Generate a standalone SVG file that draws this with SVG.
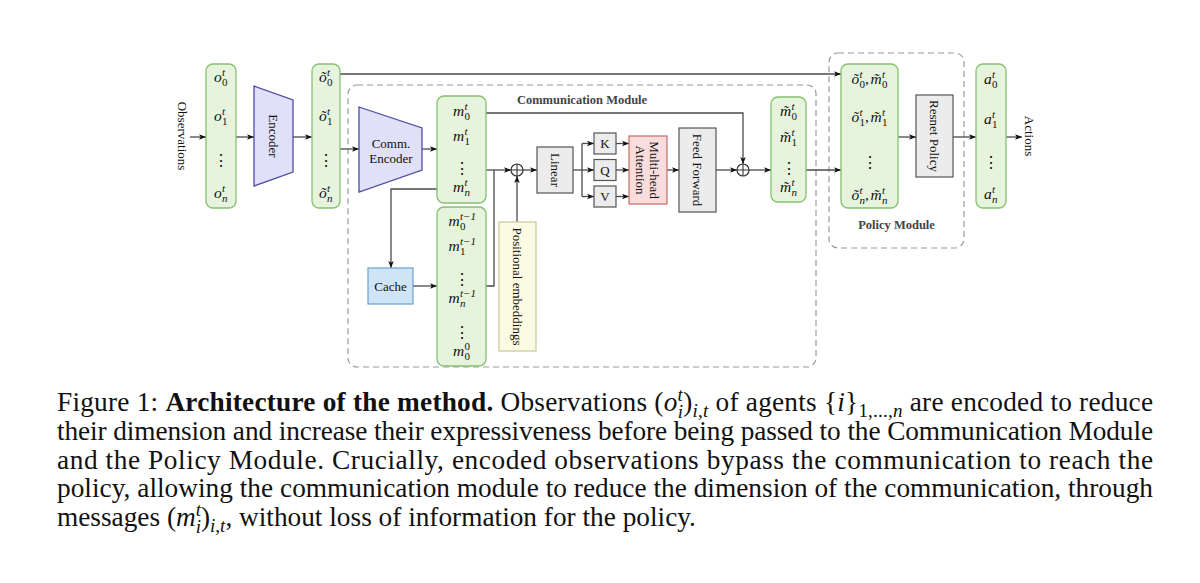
<svg xmlns="http://www.w3.org/2000/svg" width="1200" height="583" viewBox="0 0 1200 583">
<defs>
<marker id="ah" viewBox="0 0 10 10" refX="10" refY="5" markerWidth="7" markerHeight="7" markerUnits="userSpaceOnUse" orient="auto"><path d="M0,1 L10,5 L0,9 L2.5,5 z" fill="#111"/></marker>
<style>
.col{fill:#e6f4dd;stroke:#86c070;stroke-width:1.3}
.enc{fill:#e0e0f8;stroke:#4d4da0;stroke-width:1.3}
.gray{fill:#ececec;stroke:#555;stroke-width:1.2}
.att{fill:#f9dcdc;stroke:#c86a6a;stroke-width:1.2}
.cache{fill:#cfe5f6;stroke:#6c9fd0;stroke-width:1.2}
.pos{fill:#fbfae3;stroke:#c9c996;stroke-width:1.2}
.dash{fill:none;stroke:#9a9a9a;stroke-width:1.2;stroke-dasharray:6 4}
.ln{fill:none;stroke:#4a4a4a;stroke-width:1.3}
.arr{marker-end:url(#ah)}
.oplus{fill:#fff;stroke:#333;stroke-width:1.2}
text{font-family:"Liberation Serif","Times New Roman",serif;fill:#111}
.lbl{font-size:13px}
.rot{font-size:13px;text-anchor:middle;dominant-baseline:central}
.mid{text-anchor:middle}
.mi{font-size:15.5px;font-style:italic}
.sc{font-size:11px}
.up{font-style:normal}
.it{font-style:italic}
.bold{font-weight:bold}
.dots{font-family:"DejaVu Serif",serif;font-size:16px;text-anchor:middle;dominant-baseline:central}
.mod{font-size:12.5px;font-weight:bold;fill:#444;text-anchor:middle}
.cap{font-size:27.3px}
</style>
</defs>
<rect width="1200" height="583" fill="#fff"/>

<g id="comm-module">
<rect class="dash" x="348" y="85" width="468" height="282" rx="9"/>
<text class="mod" x="582" y="104">Communication Module</text>
</g>
<g id="policy-module">
<rect class="dash" x="829" y="53" width="135" height="195" rx="9"/>
<text class="mod" x="896.5" y="229">Policy Module</text>
</g>

<g id="connectors">
<line class="ln arr" x1="190" y1="137" x2="206" y2="137"/>
<line class="ln arr" x1="236" y1="137" x2="254" y2="137"/>
<line class="ln arr" x1="293" y1="137" x2="312" y2="137"/>
<line class="ln arr" x1="340" y1="74" x2="841" y2="74"/>
<line class="ln arr" x1="340" y1="149" x2="359" y2="149"/>
<line class="ln arr" x1="422" y1="149" x2="437" y2="149"/>
<line class="ln arr" x1="486" y1="170" x2="511" y2="170"/>
<polyline class="ln" points="486,286 494,286 494,170"/>
<polyline class="ln arr" points="437,189 391,189 391,268"/>
<line class="ln arr" x1="413" y1="286" x2="437" y2="286"/>
<line class="ln arr" x1="517" y1="222" x2="517" y2="176"/>
<line class="ln arr" x1="523" y1="170" x2="537" y2="170"/>
<polyline class="ln" points="573,170 582,170"/>
<line class="ln" x1="582" y1="143.5" x2="582" y2="196.5"/>
<line class="ln arr" x1="582" y1="143.5" x2="594" y2="143.5"/>
<line class="ln arr" x1="582" y1="170" x2="594" y2="170"/>
<line class="ln arr" x1="582" y1="196.5" x2="594" y2="196.5"/>
<line class="ln arr" x1="616" y1="143.5" x2="629" y2="143.5"/>
<line class="ln arr" x1="616" y1="170" x2="629" y2="170"/>
<line class="ln arr" x1="616" y1="196.5" x2="629" y2="196.5"/>
<line class="ln arr" x1="667" y1="170" x2="679" y2="170"/>
<line class="ln arr" x1="716" y1="170" x2="737" y2="170"/>
<polyline class="ln arr" points="486,113 743,113 743,164"/>
<line class="ln arr" x1="749" y1="170" x2="771" y2="170"/>
<line class="ln arr" x1="806" y1="170" x2="841" y2="170"/>
<line class="ln arr" x1="898" y1="137" x2="916" y2="137"/>
<line class="ln arr" x1="953" y1="137" x2="976" y2="137"/>
<line class="ln arr" x1="1006" y1="137" x2="1022" y2="137"/>
</g>

<g id="observations-label">
<text class="rot" font-size="12.5" transform="translate(182,136) rotate(90)">Observations</text>
</g>

<g id="obs-col">
<rect class="col" x="206" y="64" width="30" height="144" rx="7"/>
<text class="mi" y="82"><tspan x="214">o</tspan><tspan class="sc" x="222" dy="-6.5">t</tspan><tspan class="sc up" x="222" dy="10">0</tspan></text>
<text class="mi" y="121"><tspan x="214">o</tspan><tspan class="sc" x="222" dy="-6.5">t</tspan><tspan class="sc up" x="222" dy="10">1</tspan></text>
<text class="dots" x="221" y="160">⋮</text>
<text class="mi" y="198"><tspan x="214">o</tspan><tspan class="sc" x="222" dy="-6.5">t</tspan><tspan class="sc" x="222" dy="10">n</tspan></text>
</g>

<g id="encoder">
<polygon class="enc" points="254,86 293,100 293,172 254,186"/>
<text class="rot" transform="translate(273,136) rotate(90)">Encoder</text>
</g>

<g id="enc-obs-col">
<rect class="col" x="312" y="64" width="28" height="144" rx="7"/>
<text class="mi" y="82"><tspan x="319">õ</tspan><tspan class="sc" x="327" dy="-6.5">t</tspan><tspan class="sc up" x="327" dy="10">0</tspan></text>
<text class="mi" y="121"><tspan x="319">õ</tspan><tspan class="sc" x="327" dy="-6.5">t</tspan><tspan class="sc up" x="327" dy="10">1</tspan></text>
<text class="dots" x="326" y="160">⋮</text>
<text class="mi" y="198"><tspan x="319">õ</tspan><tspan class="sc" x="327" dy="-6.5">t</tspan><tspan class="sc" x="327" dy="10">n</tspan></text>
</g>

<g id="comm-encoder">
<polygon class="enc" points="359,107 422,128 422,170 359,192"/>
<text class="lbl mid" font-size="14" x="391" y="148">Comm.</text>
<text class="lbl mid" font-size="14" x="391" y="163">Encoder</text>
</g>

<g id="msg-col">
<rect class="col" x="437" y="96" width="49" height="107" rx="7"/>
<text class="mi" y="116"><tspan x="453">m</tspan><tspan class="sc" x="464.5" dy="-6.5">t</tspan><tspan class="sc up" x="464.5" dy="10">0</tspan></text>
<text class="mi" y="141"><tspan x="453">m</tspan><tspan class="sc" x="464.5" dy="-6.5">t</tspan><tspan class="sc up" x="464.5" dy="10">1</tspan></text>
<text class="dots" x="461.5" y="168">⋮</text>
<text class="mi" y="192"><tspan x="453">m</tspan><tspan class="sc" x="464.5" dy="-6.5">t</tspan><tspan class="sc" x="464.5" dy="10">n</tspan></text>
</g>

<g id="cache">
<rect class="cache" x="368" y="268" width="45" height="36"/>
<text class="lbl mid" font-size="13.5" x="390.5" y="291">Cache</text>
</g>

<g id="past-msg-col">
<rect class="col" x="437" y="207" width="49" height="159" rx="7"/>
<text class="mi" y="226"><tspan x="448.5">m</tspan><tspan class="sc" x="460" dy="-6.5">t−1</tspan><tspan class="sc up" x="460" dy="10">0</tspan></text>
<text class="mi" y="251"><tspan x="448.5">m</tspan><tspan class="sc" x="460" dy="-6.5">t−1</tspan><tspan class="sc up" x="460" dy="10">1</tspan></text>
<text class="dots" x="461.5" y="279">⋮</text>
<text class="mi" y="303"><tspan x="448.5">m</tspan><tspan class="sc" x="460" dy="-6.5">t−1</tspan><tspan class="sc" x="460" dy="10">n</tspan></text>
<text class="dots" x="461.5" y="332">⋮</text>
<text class="mi" y="356"><tspan x="453">m</tspan><tspan class="sc up" x="464.5" dy="-6.5">0</tspan><tspan class="sc up" x="464.5" dy="10">0</tspan></text>
</g>

<g id="positional-embeddings">
<rect class="pos" x="499" y="222" width="37" height="129"/>
<text class="rot" font-size="12" transform="translate(517.5,286.5) rotate(90)">Positional embeddings</text>
</g>

<g id="add-pos">
<circle class="oplus" cx="517" cy="170" r="6"/>
<path class="ln" d="M511,170 H523 M517,164 V176" style="stroke:#333;stroke-width:1.1"/>
</g>

<g id="linear">
<rect class="gray" x="537" y="147" width="36" height="46"/>
<text class="rot" transform="translate(555,170) rotate(90)">Linear</text>
</g>

<g id="key">
<rect class="gray" x="594" y="133" width="22" height="21"/>
<text class="lbl mid" x="605" y="148">K</text>
</g>
<g id="query">
<rect class="gray" x="594" y="159.5" width="22" height="21"/>
<text class="lbl mid" x="605" y="174.5">Q</text>
</g>
<g id="value">
<rect class="gray" x="594" y="186" width="22" height="21"/>
<text class="lbl mid" x="605" y="201">V</text>
</g>

<g id="attention">
<rect class="att" x="629" y="136" width="38" height="68"/>
<text class="rot" font-size="12.5" transform="translate(648,170) rotate(90)"><tspan x="0" y="-7">Multi-head</tspan><tspan x="0" y="7">Attention</tspan></text>
</g>

<g id="feed-forward">
<rect class="gray" x="679" y="128" width="37" height="84"/>
<text class="rot" transform="translate(697.5,170) rotate(90)">Feed Forward</text>
</g>

<g id="add-res">
<circle class="oplus" cx="743" cy="170" r="6"/>
<path class="ln" d="M737,170 H749 M743,164 V176" style="stroke:#333;stroke-width:1.1"/>
</g>

<g id="comm-out-col">
<rect class="col" x="771" y="97" width="35" height="105" rx="7"/>
<text class="mi" y="116"><tspan x="780">m̃</tspan><tspan class="sc" x="791.5" dy="-6.5">t</tspan><tspan class="sc up" x="791.5" dy="10">0</tspan></text>
<text class="mi" y="142"><tspan x="780">m̃</tspan><tspan class="sc" x="791.5" dy="-6.5">t</tspan><tspan class="sc up" x="791.5" dy="10">1</tspan></text>
<text class="dots" x="788.5" y="168">⋮</text>
<text class="mi" y="192"><tspan x="780">m̃</tspan><tspan class="sc" x="791.5" dy="-6.5">t</tspan><tspan class="sc" x="791.5" dy="10">n</tspan></text>
</g>

<g id="policy-in-col">
<rect class="col" x="841" y="64" width="57" height="144" rx="7"/>
<text class="mi" y="84"><tspan x="851.5">õ</tspan><tspan class="sc" x="859.5" dy="-6.5">t</tspan><tspan class="sc up" x="859.5" dy="10">0</tspan><tspan class="up" x="865" dy="-3.5">,</tspan><tspan x="870.5">m̃</tspan><tspan class="sc" x="882" dy="-6.5">t</tspan><tspan class="sc up" x="882" dy="10">0</tspan></text>
<text class="mi" y="122"><tspan x="851.5">õ</tspan><tspan class="sc" x="859.5" dy="-6.5">t</tspan><tspan class="sc up" x="859.5" dy="10">1</tspan><tspan class="up" x="865" dy="-3.5">,</tspan><tspan x="870.5">m̃</tspan><tspan class="sc" x="882" dy="-6.5">t</tspan><tspan class="sc up" x="882" dy="10">1</tspan></text>
<text class="dots" x="869.5" y="162">⋮</text>
<text class="mi" y="200"><tspan x="851.5">õ</tspan><tspan class="sc" x="859.5" dy="-6.5">t</tspan><tspan class="sc" x="859.5" dy="10">n</tspan><tspan class="up" x="865" dy="-3.5">,</tspan><tspan x="870.5">m̃</tspan><tspan class="sc" x="882" dy="-6.5">t</tspan><tspan class="sc" x="882" dy="10">n</tspan></text>
</g>

<g id="resnet-policy">
<rect class="gray" x="916" y="95" width="37" height="82"/>
<text class="rot" transform="translate(934.5,136) rotate(90)">Resnet Policy</text>
</g>

<g id="actions-col">
<rect class="col" x="976" y="64" width="30" height="144" rx="7"/>
<text class="mi" y="84"><tspan x="984">a</tspan><tspan class="sc" x="992" dy="-6.5">t</tspan><tspan class="sc up" x="992" dy="10">0</tspan></text>
<text class="mi" y="124"><tspan x="984">a</tspan><tspan class="sc" x="992" dy="-6.5">t</tspan><tspan class="sc up" x="992" dy="10">1</tspan></text>
<text class="dots" x="991" y="162">⋮</text>
<text class="mi" y="199"><tspan x="984">a</tspan><tspan class="sc" x="992" dy="-6.5">t</tspan><tspan class="sc" x="992" dy="10">n</tspan></text>
</g>

<g id="actions-label">
<text class="rot" font-size="12.5" transform="translate(1029,136) rotate(90)">Actions</text>
</g>

<g id="caption">
<text class="cap" x="57" y="411" textLength="1096" lengthAdjust="spacing">Figure 1: <tspan class="bold">Architecture of the method.</tspan> Observations (<tspan class="it">o</tspan><tspan class="it" font-size="19" dy="-10">t</tspan><tspan class="it" font-size="19" dx="-5.3" dy="17">i</tspan><tspan dy="-7">)</tspan><tspan font-size="19" dy="6"><tspan class="it">i</tspan>,<tspan class="it">t</tspan></tspan><tspan dy="-6"> of agents {</tspan><tspan class="it">i</tspan>}<tspan font-size="19" dy="6">1,...,<tspan class="it">n</tspan></tspan><tspan dy="-6"> are encoded to reduce</tspan></text>
<text class="cap" x="57" y="440" textLength="1096" lengthAdjust="spacing">their dimension and increase their expressiveness before being passed to the Communication Module</text>
<text class="cap" x="57" y="468.5" textLength="1096" lengthAdjust="spacing">and the Policy Module.  Crucially, encoded observations bypass the communication to reach the</text>
<text class="cap" x="57" y="497" textLength="1096" lengthAdjust="spacing">policy, allowing the communication module to reduce the dimension of the communication, through</text>
<text class="cap" x="57" y="526">messages (<tspan class="it">m</tspan><tspan class="it" font-size="19" dy="-10">t</tspan><tspan class="it" font-size="19" dx="-5.3" dy="17">i</tspan><tspan dy="-7">)</tspan><tspan font-size="19" dy="6"><tspan class="it">i</tspan>,<tspan class="it">t</tspan></tspan><tspan dy="-6">, without loss of information for the policy.</tspan></text>
</g>
</svg>
